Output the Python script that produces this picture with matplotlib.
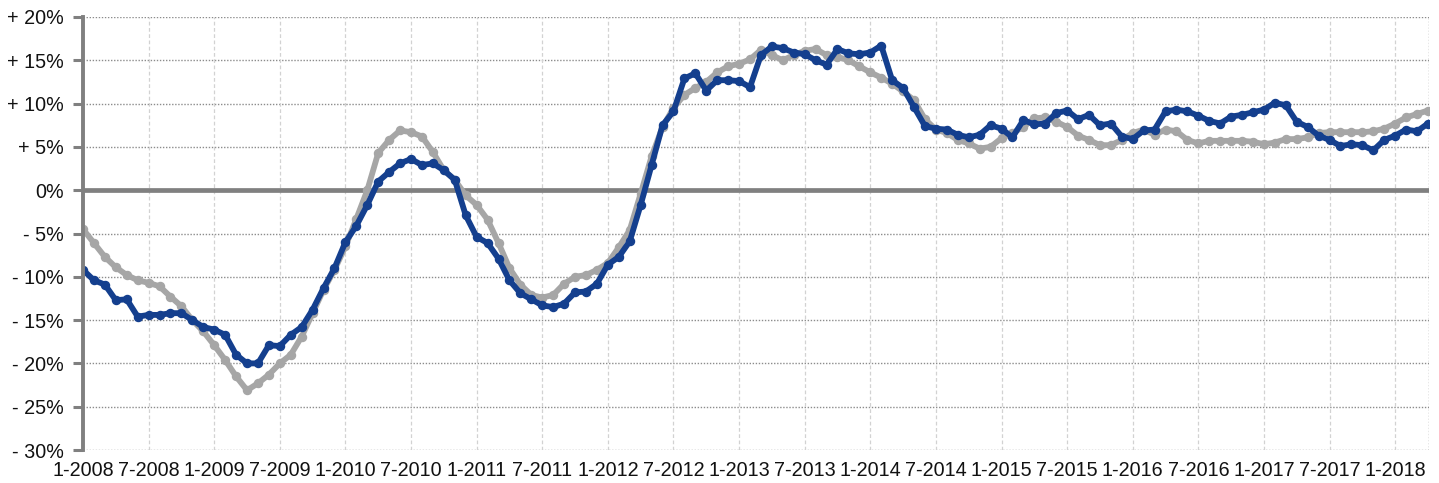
import matplotlib
matplotlib.use("Agg")
import matplotlib.pyplot as plt
import numpy as np

plt.rcParams['font.family'] = ['Liberation Sans', 'DejaVu Sans']

# Monthly year-on-year change (%), January 2008 to April 2018
gray_series = [
    -4.5, -6.1, -7.7, -8.9, -9.8, -10.4, -10.7, -11.1, -12.3, -13.4, -15.0, -16.3,
    -17.9, -19.6, -21.5, -23.1, -22.3, -21.3, -20.0, -19.0, -16.9, -14.2, -11.5, -9.2,
    -6.5, -3.3, 0.0, 4.3, 5.8, 6.9, 6.7, 6.2, 4.4, 2.3, 1.2, -0.6,
    -1.7, -3.4, -6.1, -9.0, -10.9, -12.1, -12.4, -12.1, -10.8, -10.0, -9.8, -9.2,
    -8.4, -6.6, -4.6, -0.4, 3.9, 7.3, 9.5, 11.0, 11.8, 12.5, 13.6, 14.3,
    14.6, 15.1, 16.2, 15.6, 15.0, 15.6, 16.1, 16.3, 15.6, 15.4, 15.0, 14.3,
    13.6, 13.0, 12.3, 11.4, 10.4, 8.2, 7.0, 6.6, 5.8, 5.4, 4.8, 5.0,
    6.0, 6.6, 7.3, 8.3, 8.4, 7.9, 7.3, 6.3, 5.8, 5.2, 5.2, 5.8,
    6.6, 7.0, 6.4, 7.0, 6.8, 5.8, 5.4, 5.7, 5.7, 5.7, 5.7, 5.6,
    5.3, 5.5, 5.9, 5.9, 6.1, 6.6, 6.7, 6.7, 6.7, 6.7, 6.8, 7.1,
    7.7, 8.4, 8.8, 9.2,
]

blue_series = [
    -9.2, -10.4, -10.9, -12.7, -12.6, -14.6, -14.4, -14.4, -14.2, -14.2, -15.0, -15.8,
    -16.1, -16.7, -19.0, -20.0, -20.0, -17.9, -18.0, -16.7, -15.8, -13.8, -11.3, -9.0,
    -6.0, -4.1, -1.7, 1.0, 2.1, 3.1, 3.6, 2.9, 3.1, 2.3, 1.2, -2.9,
    -5.4, -6.1, -7.9, -10.4, -11.9, -12.6, -13.3, -13.5, -13.1, -11.8, -11.7, -10.8,
    -8.6, -7.7, -5.9, -1.7, 2.9, 7.5, 9.1, 12.9, 13.5, 11.5, 12.7, 12.7,
    12.6, 11.9, 15.6, 16.6, 16.4, 15.9, 15.7, 15.0, 14.5, 16.3, 15.8, 15.7,
    15.9, 16.7, 12.7, 11.8, 9.6, 7.4, 7.1, 7.0, 6.4, 6.1, 6.4, 7.5,
    7.1, 6.1, 8.1, 7.6, 7.7, 8.9, 9.2, 8.2, 8.7, 7.5, 7.7, 6.2,
    5.9, 6.9, 7.0, 9.1, 9.3, 9.1, 8.6, 8.0, 7.7, 8.5, 8.7, 9.0,
    9.3, 10.1, 9.8, 7.9, 7.3, 6.3, 5.8, 5.1, 5.3, 5.2, 4.6, 5.8,
    6.3, 7.0, 6.8, 7.7,
]

x_tick_labels = [
    "1-2008", "7-2008", "1-2009", "7-2009", "1-2010", "7-2010", "1-2011",
    "7-2011", "1-2012", "7-2012", "1-2013", "7-2013", "1-2014", "7-2014",
    "1-2015", "7-2015", "1-2016", "7-2016", "1-2017", "7-2017", "1-2018",
]
y_ticks = [20, 15, 10, 5, 0, -5, -10, -15, -20, -25, -30]
y_tick_labels = ["+ 20%", "+ 15%", "+ 10%", "+ 5%", "0%", "- 5%", "- 10%",
                 "- 15%", "- 20%", "- 25%", "- 30%"]

months = np.arange(len(blue_series))

W, H = 1439, 483
fig = plt.figure(figsize=(W / 100, H / 100), dpi=100)
ax = fig.add_axes([83 / W, 1 - 450 / H, (1428.5 - 83) / W, (450 - 17) / H])

GRAY = "#a6a6a6"
BLUE = "#143f8e"
AXIS_GRAY = "#808080"

# grid
for yv in y_ticks:
    ax.axhline(yv, color="#8c8c8c", lw=1.0, ls=(0, (1, 1.2)), zorder=1)
for k in range(1, len(x_tick_labels)):
    ax.axvline(6 * k, color="#d2d2d2", lw=0.9, ls=(0, (3, 2)), zorder=1)
ax.axvline(months[-1] + 0.05, color="#8c8c8c", lw=1.0, ls=(0, (1, 1.2)), zorder=1)

ax.axhline(0, color=AXIS_GRAY, lw=3.4, zorder=2, solid_capstyle="butt")

ax.plot(months, gray_series, color=GRAY, lw=4.2, marker="o", ms=5.8,
        zorder=3, solid_joinstyle="round")
ax.plot(months, blue_series, color=BLUE, lw=4.2, marker="o", ms=5.8,
        zorder=4, solid_joinstyle="round")

ax.set_xlim(0, months[-1] + 0.05)
ax.set_ylim(-30, 20)

ax.set_yticks(y_ticks)
ax.set_yticklabels(y_tick_labels, fontsize=14.2, color="#111111")
ax.set_xticks(np.arange(0, 6 * len(x_tick_labels), 6))
ax.set_xticklabels(x_tick_labels, fontsize=14.2, color="#111111")

ax.tick_params(axis="y", length=7, width=2.2, color=AXIS_GRAY, pad=7)
ax.tick_params(axis="x", length=0, pad=8)

for side in ("top", "right", "bottom"):
    ax.spines[side].set_visible(False)
ax.spines["left"].set_color(AXIS_GRAY)
ax.spines["left"].set_linewidth(2.8)
ax.spines["left"].set_zorder(5)

fig.savefig("out.png", dpi=100)
